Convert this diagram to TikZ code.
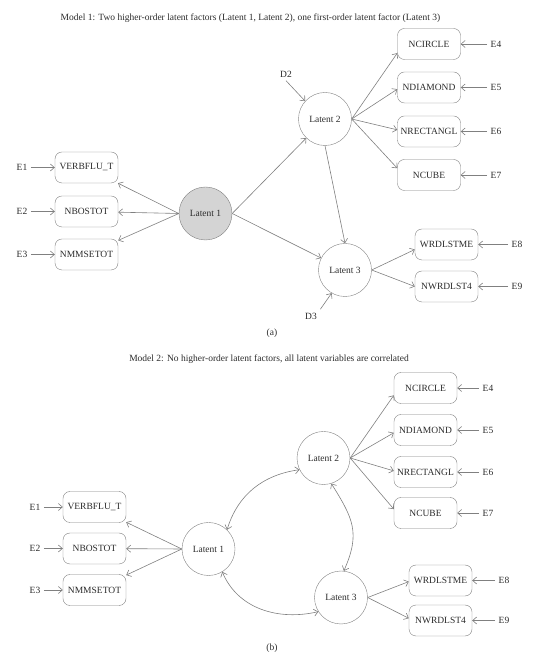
\documentclass[tikz,border=0pt]{standalone}
\usepackage{fontspec}
\setmainfont{Liberation Serif}
\usetikzlibrary{arrows.meta}
\definecolor{linegray}{gray}{0.5}
\definecolor{txtgray}{HTML}{2B2B2B}
\definecolor{fillgray}{gray}{0.83}
\tikzset{
  indic/.style={draw=linegray, rounded corners=7pt, minimum width=63pt, minimum height=31pt, inner sep=1pt},
  latent/.style={draw=linegray, circle, minimum size=53pt, inner sep=0pt},
  link/.style={draw=linegray, line width=0.6pt},
}
\begin{document}
\begin{tikzpicture}[x=1pt,y=1pt, font=\fontsize{9.5}{11}\selectfont,
    every node/.append style={text=txtgray},
    >={Straight Barb[length=4pt,width=7pt]}]
      \useasboundingbox (0,0) rectangle (544,663);
      %Model 1
      \node (titleA) at (250.5,645) {Model 1: Two higher-order latent factors (Latent 1, Latent 2), one first-order latent factor (Latent 3)};
      \node[latent, fill=fillgray] (a-L1) at (205.5,449.5) {Latent 1};
      \node[latent] (a-L2) at (325,544) {Latent 2};
      \node[latent] (a-L3) at (345,393) {Latent 3};
      \node (a-d2) at (286,589) {D2};
      \node (a-d3) at (311,347) {D3};
      %Indicators left
      \node[indic] (a-verb) at (86.5,495.5) {VERBFLU\_T};
      \node[indic] (a-bos) at (86.5,451.5) {NBOSTOT};
      \node[indic] (a-mms) at (86.5,408.5) {NMMSETOT};
      \node (a-e1) at (22,495.5) {E1};
      \node (a-e2) at (22,451.5) {E2};
      \node (a-e3) at (22,408.5) {E3};
      %Indicators right
      \node[indic] (a-circ) at (429,619) {NCIRCLE};
      \node[indic] (a-diam) at (429,575.5) {NDIAMOND};
      \node[indic] (a-rect) at (429,531.5) {NRECTANGL};
      \node[indic] (a-cube) at (429,488) {NCUBE};
      \node[indic] (a-wrd) at (446.5,418.5) {WRDLSTME};
      \node[indic] (a-nwrd) at (446.5,376.5) {NWRDLST4};
      \node (a-e4) at (496,619) {E4};
      \node (a-e5) at (496,575.5) {E5};
      \node (a-e6) at (496,531.5) {E6};
      \node (a-e7) at (496,488) {E7};
      \node (a-e8) at (517,418.5) {E8};
      \node (a-e9) at (517,376.5) {E9};
      \node (capA) at (272,330) {(a)};
      %Paths
      \draw[link,->] (a-L1.west) -- (a-verb);
      \draw[link,->] (a-L1.west) -- (a-bos);
      \draw[link,->] (a-L1.west) -- (a-mms);
      \draw[link,->] (a-e1) -- (a-verb);
      \draw[link,->] (a-e2) -- (a-bos);
      \draw[link,->] (a-e3) -- (a-mms);
      \draw[link,->] (a-L1.east) -- (a-L2);
      \draw[link,->] (a-L1.east) -- (a-L3);
      \draw[link,->] (a-L2.south) -- (a-L3.north);
      \draw[link,->] (a-d2.south) -- (a-L2.138);
      \draw[link,->] (a-d3.north east) -- (a-L3.240);
      \draw[link,->] (a-L2.east) -- (a-circ.196);
      \draw[link,->] (a-L2.east) -- (a-diam.183);
      \draw[link,->] (a-L2.east) -- (a-rect.177);
      \draw[link,->] (a-L2.east) -- (a-cube.168);
      \draw[link,->] (a-L3.east) -- (a-wrd.189);
      \draw[link,->] (a-L3.east) -- (a-nwrd.west);
      \draw[link,->] (a-e4) -- (a-circ);
      \draw[link,->] (a-e5) -- (a-diam);
      \draw[link,->] (a-e6) -- (a-rect);
      \draw[link,->] (a-e7) -- (a-cube);
      \draw[link,->] (a-e8) -- (a-wrd);
      \draw[link,->] (a-e9) -- (a-nwrd);

      %Model 2
      \node (titleB) at (269,304) {Model 2: No higher-order latent factors, all latent variables are correlated};
      \node[latent] (b-L1) at (208.5,114) {Latent 1};
      \node[latent] (b-L2) at (323.5,205) {Latent 2};
      \node[latent] (b-L3) at (341,65.5) {Latent 3};
      %Indicators left
      \node[indic] (b-verb) at (94.5,156) {VERBFLU\_T};
      \node[indic] (b-bos) at (94.5,114.5) {NBOSTOT};
      \node[indic] (b-mms) at (94.5,73) {NMMSETOT};
      \node (b-e1) at (35,156) {E1};
      \node (b-e2) at (35,114.5) {E2};
      \node (b-e3) at (35,73) {E3};
      %Indicators right
      \node[indic] (b-circ) at (425.5,275) {NCIRCLE};
      \node[indic] (b-diam) at (425.5,233) {NDIAMOND};
      \node[indic] (b-rect) at (425.5,191) {NRECTANGL};
      \node[indic] (b-cube) at (425.5,150) {NCUBE};
      \node[indic] (b-wrd) at (440.5,82.5) {WRDLSTME};
      \node[indic] (b-nwrd) at (440.5,42.5) {NWRDLST4};
      \node (b-e4) at (488,275) {E4};
      \node (b-e5) at (488,233) {E5};
      \node (b-e6) at (488,191) {E6};
      \node (b-e7) at (488,150) {E7};
      \node (b-e8) at (504,82.5) {E8};
      \node (b-e9) at (504,42.5) {E9};
      \node (capB) at (272,15) {(b)};
      %Paths
      \draw[link,->] (b-L1.west) -- (b-verb);
      \draw[link,->] (b-L1.west) -- (b-bos);
      \draw[link,->] (b-L1.west) -- (b-mms);
      \draw[link,->] (b-e1) -- (b-verb);
      \draw[link,->] (b-e2) -- (b-bos);
      \draw[link,->] (b-e3) -- (b-mms);
      \draw[link,->] (b-L2.east) -- (b-circ.193);
      \draw[link,->] (b-L2.east) -- (b-diam.185);
      \draw[link,->] (b-L2.east) -- (b-rect.178);
      \draw[link,->] (b-L2.east) -- (b-cube.173);
      \draw[link,->] (b-L3.east) -- (b-wrd.182);
      \draw[link,->] (b-L3.east) -- (b-nwrd.176);
      \draw[link,->] (b-e4) -- (b-circ);
      \draw[link,->] (b-e5) -- (b-diam);
      \draw[link,->] (b-e6) -- (b-rect);
      \draw[link,->] (b-e7) -- (b-cube);
      \draw[link,->] (b-e8) -- (b-wrd);
      \draw[link,->] (b-e9) -- (b-nwrd);
      %Correlations
      \draw[link,<->] (b-L1.46) to[out=73,in=188] (b-L2.206);
      \draw[link,<->] (b-L1.301) to[out=293,in=193] (b-L3.212);
      \draw[link,<->] (b-L2.287) to[out=302,in=66,looseness=1.2] (b-L3.84);
\end{tikzpicture}
\end{document}
